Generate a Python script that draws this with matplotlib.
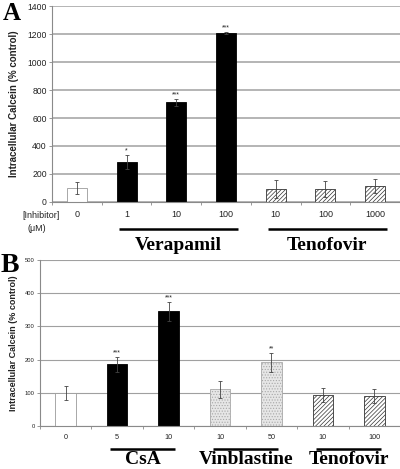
import numpy as np
import matplotlib
matplotlib.use("Agg")
import matplotlib.pyplot as plt
from matplotlib import transforms

plt.rcParams["font.family"] = ["Liberation Sans", "DejaVu Sans"]
plt.rcParams["hatch.linewidth"] = 0.5

# Panel A: verapamil / tenofovir
a_doses = ["0", "1", "10", "100", "10", "100", "1000"]
a_drug = ["control", "Verapamil", "Verapamil", "Verapamil",
          "Tenofovir", "Tenofovir", "Tenofovir"]
a_mean = [100, 286, 712, 1205, 93, 93, 114]
a_err = [42, 50, 25, 8, 63, 57, 50]
a_sig = ["", "*", "***", "***", "", "", ""]

# Panel B: CsA / vinblastine / tenofovir
b_doses = ["0", "5", "10", "10", "50", "10", "100"]
b_drug = ["control", "CsA", "CsA", "Vinblastine", "Vinblastine",
          "Tenofovir", "Tenofovir"]
b_mean = [100, 186, 345, 110, 192, 92, 89]
b_err = [21, 22, 30, 25, 28, 21, 21]
b_sig = ["", "***", "***", "", "**", "", ""]

styles = {
    "control": dict(facecolor="white", edgecolor="#9a9a9a"),
    "Verapamil": dict(facecolor="black", edgecolor="black"),
    "CsA": dict(facecolor="black", edgecolor="black"),
    "Vinblastine": dict(facecolor="#e6e6e6", edgecolor="#a8a8a8", hatch="......"),
    "Tenofovir": dict(facecolor="white", edgecolor="#333333", hatch="////////"),
}


def draw_panel(ax, doses, drug, mean, err, sig, ymax, tick_fs, x_fs, grid_lw,
               line_y, text_y, group_fs, pad_lo, pad_hi):
    x = np.arange(len(doses))
    for xi, d, m in zip(x, drug, mean):
        ax.bar(xi, m, width=0.4, linewidth=0.6, zorder=2, **styles[d])
    ax.errorbar(x, mean, yerr=err, fmt="none", ecolor="#444444",
                elinewidth=0.6, capsize=1.3, capthick=0.6, zorder=3)
    for xi, m, e, s in zip(x, mean, err, sig):
        if s:
            ax.annotate(s, (xi, m + e), xytext=(0, 0.3), textcoords="offset points",
                        ha="center", va="bottom", fontsize=5, color="#222222")

    ax.set_xlim(-0.5, len(doses) - 0.5)
    ax.set_ylim(0, ymax)
    ax.set_yticks(np.linspace(0, ymax, 6 if ymax == 500 else 8))
    ax.set_xticks(x)
    ax.set_xticklabels(doses)
    ax.set_xticks(np.arange(-0.5, len(doses)), minor=True)
    ax.tick_params(axis="x", which="major", length=0, pad=6, labelsize=x_fs,
                   labelcolor="#222222")
    ax.tick_params(axis="x", which="minor", length=2.5, width=0.6, color="#888888")
    ax.tick_params(axis="y", length=2.2, width=0.6, color="#888888", pad=1.5,
                   labelsize=tick_fs, labelcolor="#222222")
    ax.yaxis.grid(True, color="#a0a0a0", linewidth=grid_lw)
    ax.set_axisbelow(True)
    for sp in ("top", "right"):
        ax.spines[sp].set_visible(False)
    for sp in ("left", "bottom"):
        ax.spines[sp].set_color("#8a8a8a")
        ax.spines[sp].set_linewidth(0.8)

    # group bars and names below the axis
    trans = transforms.blended_transform_factory(ax.transData, ax.transAxes)
    names = [d for i, d in enumerate(drug) if d != "control" and drug.index(d) == i]
    for name in names:
        idx = [i for i, d in enumerate(drug) if d == name]
        lo, hi = idx[0] - pad_lo, idx[-1] + pad_hi
        ax.plot([lo, hi], [line_y, line_y], color="black", linewidth=1.8,
                transform=trans, clip_on=False, solid_capstyle="butt")
        ax.text((lo + hi) / 2, text_y, name, transform=trans, ha="center",
                va="baseline", fontsize=group_fs, fontweight="bold",
                family=["Liberation Serif", "DejaVu Serif"])


fig = plt.figure(figsize=(4, 4.69), dpi=100)
ax_a = fig.add_axes([0.13, 0.5693, 0.87, 0.4179])
ax_b = fig.add_axes([0.10, 0.0917, 0.90, 0.3539])

draw_panel(ax_a, a_doses, a_drug, a_mean, a_err, a_sig, 1400, 6.2, 6.5, 1.1,
           -0.138, -0.243, 14, 0.16, 0.24)
draw_panel(ax_b, b_doses, b_drug, b_mean, b_err, b_sig, 500, 4.2, 5.2, 0.8,
           -0.139, -0.229, 14, 0.13, 0.13)

ax_a.set_ylabel("Intracellular Calcein (% control)", fontsize=7, fontweight="bold",
                color="#222222")
ax_b.set_ylabel("Intracellular Calcein (% control)", fontsize=6.5, fontweight="bold",
                color="#222222")
ax_a.yaxis.set_label_coords(-0.095, 0.5)
ax_b.yaxis.set_label_coords(-0.061, 0.5)

fig.text(41 / 400, 1 - 215 / 469, "[Inhibitor]", ha="center", va="center",
         fontsize=6.5, color="#222222")
fig.text(37 / 400, 1 - 228 / 469, "(\u03bcM)", ha="center", va="center",
         fontsize=6.5, color="#222222")

serif = ["Liberation Serif", "DejaVu Serif"]
fig.text(12 / 400, 1 - 14 / 469, "A", ha="center", va="center", fontsize=18,
         fontweight="bold", family=serif)
fig.text(10 / 400, 1 - 265 / 469, "B", ha="center", va="center", fontsize=20,
         fontweight="bold", family=serif)

fig.savefig("out.png", dpi=100)
